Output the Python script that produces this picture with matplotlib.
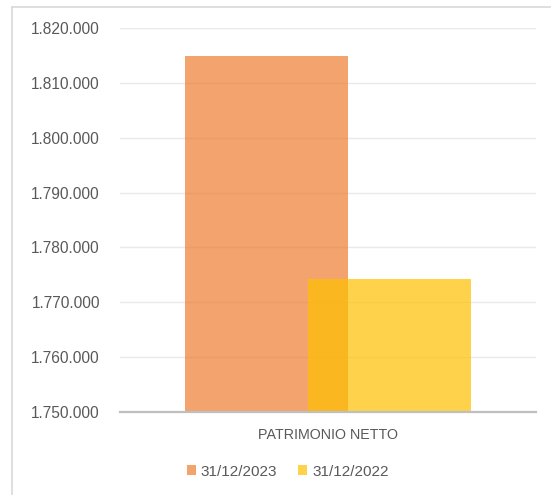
import matplotlib
matplotlib.use("Agg")
import matplotlib.pyplot as plt
from matplotlib.patches import Patch
from matplotlib.ticker import FuncFormatter, MultipleLocator
from matplotlib.lines import Line2D

categories = ["PATRIMONIO NETTO"]
series_names = ["31/12/2023", "31/12/2022"]
values_2023 = [1814900]
values_2022 = [1774200]
colors = ["#ED7D31", "#FFC000"]

plt.rcParams['font.family'] = ['Liberation Sans', 'DejaVu Sans']
TXT = "#595959"

fig = plt.figure(figsize=(5.51, 4.95), dpi=100)
ax = fig.add_axes([120/551, 1-412.3/495, 416/551, (412.3-27.7)/495])

w = 0.392
off = 0.147
x = list(range(len(categories)))
ax.bar([xi - off for xi in x], values_2023, width=w, color=colors[0], alpha=0.7,
       label=series_names[0], zorder=2, linewidth=0)
ax.bar([xi + off for xi in x], values_2022, width=w, color=colors[1], alpha=0.7,
       label=series_names[1], zorder=3, linewidth=0)

ax.set_xlim(-0.5, 0.5)
ax.set_ylim(1750000, 1820000)
ax.yaxis.set_major_locator(MultipleLocator(10000))
ax.yaxis.set_major_formatter(FuncFormatter(lambda v, p: f"{int(round(v)):,}".replace(",", ".")))
ax.grid(axis='y', color='#E9E9E9', linewidth=1.0, zorder=0)
ax.set_axisbelow(True)

for s in ['top', 'right', 'left']:
    ax.spines[s].set_visible(False)
ax.spines['bottom'].set_color('#BFBFBF')
ax.spines['bottom'].set_linewidth(1.6)
ax.spines['bottom'].set_zorder(5)

ax.set_xticks(x)
ax.set_xticklabels(categories)
ax.tick_params(axis='x', length=0, pad=11.5, labelsize=10.3, labelcolor=TXT)
ax.tick_params(axis='y', length=0, pad=14.4, labelsize=11.2, labelcolor=TXT)

handles = [Patch(facecolor=colors[0], alpha=0.7, linewidth=0),
           Patch(facecolor=colors[1], alpha=0.7, linewidth=0)]
leg = fig.legend(handles, series_names, loc='center', bbox_to_anchor=(0.522, 1-471.7/495),
                 ncol=2, frameon=False, fontsize=11, handlelength=0.6, handleheight=0.6,
                 handletextpad=0.3, columnspacing=1.4, labelcolor=TXT)

# Chart border (top and left visible)
fig.add_artist(Line2D([12/551, 1.0], [1-7/495, 1-7/495], color='#D9D9D9', linewidth=1.2,
                      transform=fig.transFigure))
fig.add_artist(Line2D([12/551, 12/551], [0, 1-7/495], color='#D9D9D9', linewidth=1.2,
                      transform=fig.transFigure))

fig.savefig("out.png", dpi=100)
